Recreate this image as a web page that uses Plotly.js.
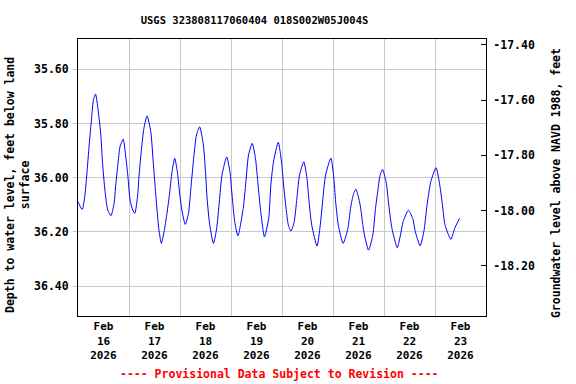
<!DOCTYPE html>
<html>
<head>
<meta charset="utf-8">
<script src="https://cdn.plot.ly/plotly-3.0.1.min.js"></script>
<style>html,body{margin:0;padding:0;background:#fff;}#chart{width:576px;height:384px;}</style>
</head>
<body>
<div id="chart"></div>
<script>
// ---- Data ----
const siteTitle = "USGS 323808117060404 018S002W05J004S";
const feb16 = ["00:00","02:00","03:15","04:15","05:15","06:15","07:15","08:15","09:45","10:45","11:30","12:45","14:00","15:30","17:00","17:45","18:45","19:45","21:15","22:30","23:30"];
const dep16 = [36.089,36.117,36.064,35.978,35.879,35.793,35.713,35.691,35.769,35.842,35.941,36.052,36.119,36.140,36.094,36.027,35.953,35.886,35.858,35.923,35.996];
const feb17 = ["00:30","01:45","02:45","04:00","04:45","05:45","07:00","08:30","10:15","11:30","12:45","14:00","15:15","16:30","17:45","19:00","20:15","21:30","22:45","23:45"];
const dep17 = [36.082,36.119,36.131,36.070,35.990,35.904,35.818,35.772,35.830,35.953,36.076,36.187,36.242,36.199,36.138,36.064,35.978,35.928,35.978,36.052];
const feb18 = ["01:00","02:30","04:00","05:15","06:30","07:45","09:15","11:00","12:00","12:45","14:00","15:45","17:15","18:30","19:45","22:00","23:30"];
const dep18 = [36.125,36.172,36.131,36.027,35.923,35.842,35.812,35.879,35.978,36.076,36.175,36.242,36.187,36.089,35.990,35.923,35.978];
const feb19 = ["00:30","01:45","03:15","05:45","07:00","08:15","10:00","11:30","12:45","14:00","15:45","17:45","18:45","20:00","22:15","23:45"];
const dep19 = [36.064,36.162,36.214,36.113,36.015,35.916,35.873,35.928,36.027,36.125,36.218,36.149,36.027,35.941,35.869,35.941];
const feb20 = ["00:45","01:45","03:00","04:15","05:45","07:00","08:15","10:15","11:45","12:45","14:00","16:30","18:00","19:15","20:30","23:00"];
const dep20 = [36.027,36.101,36.175,36.197,36.162,36.076,35.990,35.941,36.002,36.089,36.175,36.252,36.175,36.076,35.990,35.928];
const feb21 = ["00:15","01:15","02:30","04:45","07:00","08:15","09:30","10:45","12:30","13:15","14:30","16:45","18:45","20:00","21:15","22:00","23:15"];
const dep21 = [35.990,36.089,36.175,36.242,36.187,36.113,36.064,36.042,36.089,36.125,36.199,36.267,36.211,36.113,36.039,35.996,35.969];
const feb22 = ["01:00","02:15","03:45","06:15","07:45","09:00","11:30","13:30","14:45","17:00","18:45","20:15","22:00"];
const dep22 = [36.015,36.101,36.187,36.258,36.211,36.162,36.120,36.150,36.199,36.251,36.199,36.101,36.015];
const feb23 = ["00:30","02:15","03:30","04:45","07:30","09:15","11:30"];
const dep23 = [35.963,36.027,36.101,36.175,36.227,36.187,36.150];

const dayLabels = ["16","17","18","19","20","21","22","23"];
const depthTicks = [35.6, 35.8, 36.0, 36.2, 36.4];
const depthTickText = ["35.60","35.80","36.00","36.20","36.40"];
const elevTicks = [-17.4, -17.6, -17.8, -18.0, -18.2];
const elevTickText = ["-17.40","-17.60","-17.80","-18.00","-18.20"];

// ---- Build series ----
const dayTimes = [feb16, feb17, feb18, feb19, feb20, feb21, feb22, feb23];
const dayDeps = [dep16, dep17, dep18, dep19, dep20, dep21, dep22, dep23];
const times = [], depths = [];
dayTimes.forEach((arr, i) => {
  arr.forEach((t, j) => { times.push("2026-02-" + dayLabels[i] + " " + t); depths.push(dayDeps[i][j]); });
});
const noonTicks = dayLabels.map(d => "2026-02-" + d + " 12:00");
const tickText = dayLabels.map(d => "Feb<br>" + d + "<br>2026");

const mono = "DejaVu Sans Mono";
const traces = [
  {x: times, y: depths, type: "scatter", mode: "lines", line: {color: "#0000ff", width: 1, shape: "spline", smoothing: 0.6}, yaxis: "y", hoverinfo: "skip", showlegend: false},
  {x: [], y: [], type: "scatter", mode: "lines", yaxis: "y2", showlegend: false}
];
const gridC = "#c8c8c8";
const layout = {
  width: 576, height: 384,
  margin: {l: 78, r: 90, t: 39, b: 68},
  paper_bgcolor: "#fff", plot_bgcolor: "#fff",
  showlegend: false,
  title: {text: siteTitle, x: 0.4326, xanchor: "center", xref: "paper", y: 0.948, yref: "container", yanchor: "middle",
          font: {family: mono, size: 10.5, color: "#000", weight: "bold"}},
  xaxis: {
    type: "date", range: ["2026-02-16 00:00", "2026-02-24 00:00"],
    tickmode: "array", tickvals: noonTicks, ticktext: tickText, ticks: "",
    tickfont: {family: mono, size: 11, color: "#000", weight: "bold"},
    showgrid: false, zeroline: false,
    showline: true, linecolor: "#000", linewidth: 1, mirror: true,
    minor: {tick0: "2026-02-16", dtick: 86400000, showgrid: true, gridcolor: gridC, gridwidth: 1, ticks: ""}
  },
  yaxis: {
    range: [36.51, 35.488], tickmode: "array", tickvals: depthTicks, ticktext: depthTickText,
    tickfont: {family: mono, size: 11.5, color: "#000", weight: "bold"},
    showgrid: true, gridcolor: gridC, gridwidth: 1, zeroline: false,
    showline: true, linecolor: "#000", linewidth: 1,
    ticks: "outside", ticklen: 4, tickcolor: gridC, ticklabelstandoff: 2
  },
  yaxis2: {
    overlaying: "y", side: "right", range: [-18.381, -17.379],
    tickmode: "array", tickvals: elevTicks, ticktext: elevTickText,
    tickfont: {family: mono, size: 11.5, color: "#000", weight: "bold"},
    showgrid: false, zeroline: false,
    showline: true, linecolor: "#000", linewidth: 1,
    ticks: "inside", ticklen: 5, tickcolor: "#000", ticklabelstandoff: 4
  },
  annotations: [
    {text: "Depth to water level, feet below land<br>surface", xref: "paper", yref: "paper", x: -0.147, y: 0.473,
     xanchor: "center", yanchor: "middle", textangle: -90, showarrow: false,
     font: {family: mono, size: 11.5, color: "#000", weight: "bold"}},
    {text: "Groundwater level above NAVD 1988, feet", xref: "paper", yref: "paper", x: 1.1716, y: 0.48,
     xanchor: "center", yanchor: "middle", textangle: -90, showarrow: false,
     font: {family: mono, size: 11.5, color: "#000", weight: "bold"}},
    {text: "---- Provisional Data Subject to Revision ----", xref: "paper", yref: "paper", x: 0.495, y: -0.209,
     xanchor: "center", yanchor: "middle", showarrow: false,
     font: {family: mono, size: 11.5, color: "#ff0000", weight: "bold"}}
  ]
};
Plotly.newPlot("chart", traces, layout, {displayModeBar: false, staticPlot: true});
</script>
</body>
</html>
